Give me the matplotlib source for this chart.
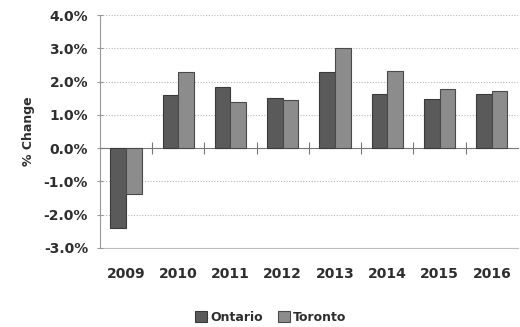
import numpy as np
import matplotlib.pyplot as plt
from matplotlib.ticker import FixedLocator, FuncFormatter

years = ["2009", "2010", "2011", "2012", "2013", "2014", "2015", "2016"]
ontario = [-2.4, 1.6, 1.83, 1.5, 2.3, 1.63, 1.48, 1.63]
toronto = [-1.38, 2.3, 1.4, 1.45, 3.0, 2.33, 1.78, 1.73]

txt = "#2e2e2e"
plt.rcParams['font.family'] = ['DejaVu Sans']
plt.rcParams['font.weight'] = 'bold'

fig = plt.figure(figsize=(5.2, 3.27), dpi=100)
ax = fig.add_axes([0.192, 0.242, 0.804, 0.712])

x = np.arange(len(years))
w = 0.3
ax.bar(x - w / 2, ontario, w, color="#5a5a5a", edgecolor="#3a3a3a", linewidth=0.8, label="Ontario", zorder=3)
ax.bar(x + w / 2, toronto, w, color="#8c8c8c", edgecolor="#4a4a4a", linewidth=0.8, label="Toronto", zorder=3)

ax.set_xlim(-0.5, len(years) - 0.5)
ax.set_ylim(-3, 4)
ax.set_yticks(np.arange(-3, 5, 1))
ax.yaxis.set_major_formatter(FuncFormatter(lambda v, p: f"{v:.1f}%"))
ax.tick_params(axis='y', direction='inout', length=5, color="#999999", labelsize=10, labelcolor=txt, pad=6)
for v in [-2, -1, 1, 2, 3, 4]:
    ax.axhline(v, color="#b8b8b8", linestyle=(0, (1, 1.5)), linewidth=0.8, zorder=1)

# zero line with category ticks
ax.spines['bottom'].set_position(('data', 0))
ax.spines['bottom'].set_color("#777777")
ax.xaxis.set_major_locator(FixedLocator(x[:-1] + 0.5))
ax.tick_params(axis='x', direction='inout', length=9, color="#777777", labelbottom=False)
ax.spines['top'].set_visible(False)
ax.spines['right'].set_visible(False)
ax.spines['left'].set_color("#999999")

sec = ax.secondary_xaxis(0)
sec.set_xticks(x)
sec.set_xticklabels(years)
sec.tick_params(length=0, pad=14, labelsize=10, labelcolor=txt)
sec.spines['bottom'].set_color("#bbbbbb")

ax.set_ylabel("% Change", fontsize=9, fontweight='bold', color=txt, labelpad=6)

fig.legend(loc='center', bbox_to_anchor=(0.52, 0.03), ncol=2, frameon=False,
           fontsize=9, handlelength=1.0, handleheight=1.0, handletextpad=0.2,
           columnspacing=1.2, labelcolor=txt)

fig.savefig("out.png", dpi=100)
